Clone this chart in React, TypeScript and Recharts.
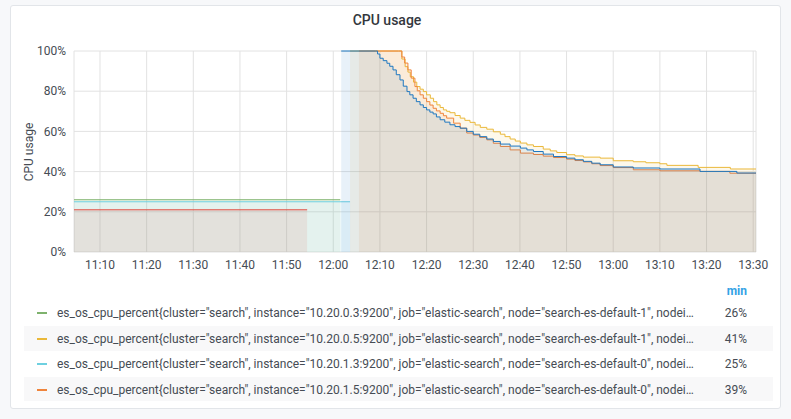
import React from "react";
import { ComposedChart, Area, XAxis, YAxis, CartesianGrid } from "recharts";

// time in minutes after 11:00
const tickTimes = [10, 20, 30, 40, 50, 60, 70, 80, 90, 100, 110, 120, 130, 140, 150];
const yTicks = [0, 20, 40, 60, 80, 100];

const greenT = [4.43, 61.5];
const greenV = [26, 26];

const cyanT = [4.43, 63.6];
const cyanV = [25, 25];

const redT = [4.43, 54.4];
const redV = [21, 21];

const yellowT = [63.6, 74.0, 74.7, 75.4, 76.0, 76.5, 77.2, 77.9, 78.6, 79.3, 80.0, 80.8, 81.5, 82.2, 82.9, 83.6, 84.3, 85.0, 86.1, 87.2, 88.2, 89.3, 90.4, 91.5, 92.9, 94.3, 95.8, 96.8, 97.9, 99.0, 100.1, 101.5, 102.9, 105.0, 106.5, 107.9, 110.0, 111.8, 113.6, 117.2, 120.0, 124.3, 127.0, 130.0, 131.5, 138.2, 145.1, 150.6];
const yellowV = [100, 100, 96, 92.2, 89.5, 87.2, 84.5, 82.3, 81, 79.8, 78.2, 76.5, 74.8, 73.2, 71.9, 70.7, 70, 69.3, 67.9, 66.6, 65.5, 64.5, 63.2, 62, 61.1, 59.8, 58.6, 57.4, 56.2, 55.2, 54.2, 53.3, 52.5, 51.2, 50.3, 49.5, 48.4, 47.8, 47.2, 46.7, 45.4, 44.9, 44.4, 43.9, 43.1, 42.1, 41.3, 41.3];

const orangeT = [65.5, 74.0, 74.7, 75.3, 76.0, 76.7, 77.5, 78.0, 78.6, 79.3, 80.0, 80.7, 81.4, 82.1, 82.9, 83.6, 84.3, 85.8, 87.2, 88.6, 90.0, 91.4, 92.9, 94.3, 95.8, 97.9, 100.1, 102.9, 105.0, 107.2, 110.0, 111.8, 113.6, 115.4, 117.2, 120.0, 124.3, 130.0, 138.6, 145.0, 150.6];
const orangeV = [100, 100, 97, 94, 90.6, 86.5, 82.3, 80.2, 78.2, 76.5, 74.8, 73.1, 71.5, 70.2, 69, 67.8, 66.6, 64.1, 61.6, 59.2, 58.2, 57, 55.8, 54.1, 52.5, 50.8, 49.2, 48.5, 47.7, 47, 46.2, 45.5, 44.8, 43.9, 43, 42, 40.9, 40.4, 40.1, 39.2, 39.2];

const blueT = [61.7, 69.0, 69.5, 70.0, 70.7, 71.5, 72.1, 72.8, 73.5, 74.3, 75.0, 75.8, 76.4, 77.1, 77.8, 78.6, 79.3, 80.0, 80.7, 81.4, 82.1, 82.9, 83.9, 85.0, 86.1, 87.2, 88.6, 90.0, 91.4, 92.9, 94.3, 95.8, 97.9, 100.1, 101.5, 102.9, 105.0, 107.2, 110.0, 111.8, 113.6, 115.4, 117.2, 120.0, 124.3, 130.0, 138.6, 146.5, 150.6];
const blueV = [100, 100, 98.5, 96.4, 95.2, 93.9, 92.4, 90.6, 88.2, 85.6, 82.5, 79.8, 78.2, 76.5, 74.8, 73.2, 71.9, 70.7, 69.6, 68.7, 67.2, 65.8, 64.6, 63.3, 62.4, 61.6, 60, 58.6, 57.4, 56.2, 55, 53.7, 52.7, 51.7, 50.8, 50, 48.7, 47.5, 46.7, 45.9, 45.1, 44.2, 43.4, 42.3, 41.8, 41.3, 40.1, 39.3, 39.3];

const legendNames = [
  'es_os_cpu_percent{cluster="search", instance="10.20.0.3:9200", job="elastic-search", node="search-es-default-1", nodeid="search-es-default-1"}',
  'es_os_cpu_percent{cluster="search", instance="10.20.0.5:9200", job="elastic-search", node="search-es-default-1", nodeid="search-es-default-1"}',
  'es_os_cpu_percent{cluster="search", instance="10.20.1.3:9200", job="elastic-search", node="search-es-default-0", nodeid="search-es-default-0"}',
  'es_os_cpu_percent{cluster="search", instance="10.20.1.5:9200", job="elastic-search", node="search-es-default-0", nodeid="search-es-default-0"}',
];
const legendMins = ["26%", "41%", "25%", "39%"];
const legendColors = ["#7EB26D", "#EAB839", "#6ED0E0", "#EF843C"];

const toData = (ts: number[], vs: number[]) => ts.map((t, i) => ({ t, v: vs[i] }));

const series = [
  { name: "green", color: "#7EB26D", data: toData(greenT, greenV) },
  { name: "yellow", color: "#EAB839", data: toData(yellowT, yellowV) },
  { name: "cyan", color: "#6ED0E0", data: toData(cyanT, cyanV) },
  { name: "orange", color: "#EF843C", data: toData(orangeT, orangeV) },
  { name: "red", color: "#E24D42", data: toData(redT, redV) },
  { name: "blue", color: "#1F78C1", data: toData(blueT, blueV) },
];

const fmtTime = (t: number) => {
  const h = 11 + Math.floor(t / 60);
  const m = Math.round(t % 60);
  return `${h}:${m < 10 ? "0" + m : m}`;
};

// the panel legend cuts long names, like Grafana does
const shortName = (name: string) => {
  const i = name.indexOf(", nodeid");
  return i < 0 ? name : name.slice(0, i + 7) + "…";
};

const font = "Roboto, 'Helvetica Neue', Arial, sans-serif";
const textColor = "#464c54";

export default function App() {
  return (
    <div style={{ position: "relative", width: 791, height: 419, background: "#f7f8fa", fontFamily: font, overflow: "hidden" }}>
      <style>{"body{margin:0}"}</style>
      <div style={{ position: "absolute", left: 10, top: 5, width: 769, height: 402, background: "#fff", border: "1px solid #e2e5e9", borderRadius: 3 }} />
      <div style={{ position: "absolute", left: 387, top: 20, transform: "translate(-50%,-50%)", fontSize: 14, fontWeight: 500, color: "#33373d", whiteSpace: "nowrap" }}>
        CPU usage
      </div>
      <div style={{ position: "absolute", left: 29, top: 152, transform: "translate(-50%,-50%) rotate(-90deg)", fontSize: 12, color: textColor, whiteSpace: "nowrap" }}>
        CPU usage
      </div>
      <div style={{ position: "absolute", left: 0, top: 0 }}>
        <ComposedChart width={791} height={280} margin={{ top: 51, right: 35, left: 0, bottom: 0 }}>
          <CartesianGrid stroke="#e2e2e2" />
          <XAxis
            dataKey="t"
            type="number"
            domain={[4.43, 150.6]}
            allowDataOverflow
            ticks={tickTimes}
            tickFormatter={fmtTime}
            tickLine={false}
            axisLine={false}
            height={28}
            tick={{ fontSize: 12, fill: textColor, fontFamily: font }}
          />
          <YAxis
            type="number"
            domain={[0, 100]}
            ticks={yTicks}
            tickFormatter={(v: number) => `${v}%`}
            tickLine={false}
            axisLine={false}
            width={74}
            tick={{ fontSize: 12, fill: textColor, fontFamily: font }}
          />
          {series.map((s) => (
            <Area
              key={s.name}
              data={s.data}
              dataKey="v"
              type="stepAfter"
              stroke={s.color}
              strokeWidth={1}
              fill={s.color}
              fillOpacity={0.1}
              dot={false}
              activeDot={false}
              isAnimationActive={false}
            />
          ))}
        </ComposedChart>
      </div>
      <div style={{ position: "absolute", left: 700, top: 284, width: 47, textAlign: "right", fontSize: 12, fontWeight: 700, color: "#33a2e5" }}>
        min
      </div>
      <div style={{ position: "absolute", left: 24, top: 300, width: 749, height: 101, overflow: "hidden" }}>
        {legendNames.map((name, i) => (
          <div
            key={i}
            style={{ position: "relative", height: 25.7, background: i % 2 === 1 ? "#f8f8f9" : "transparent", fontSize: 12, color: textColor }}
          >
            <div style={{ position: "absolute", left: 13, top: 12, width: 10, height: 2, background: legendColors[i] }} />
            <div style={{ position: "absolute", left: 33, top: 5, whiteSpace: "nowrap", lineHeight: "16px" }}>
              {shortName(name)}
            </div>
            <div style={{ position: "absolute", left: 690, top: 5, width: 33, textAlign: "right", lineHeight: "16px" }}>
              {legendMins[i]}
            </div>
          </div>
        ))}
      </div>
    </div>
  );
}
